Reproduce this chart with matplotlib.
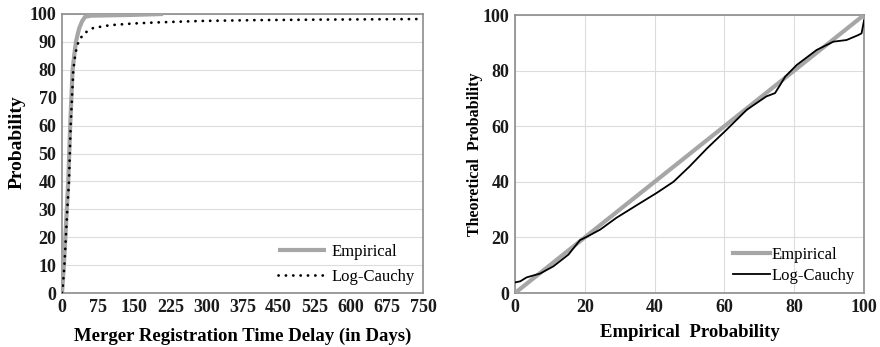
import matplotlib.pyplot as plt
import numpy as np

# left panel: CDF vs delay (days)
emp_days = [0, 2, 4, 7, 10, 13, 17, 22, 26, 29, 33, 36, 42, 48, 60, 93, 150, 210]
emp_prob = [0, 5, 10, 20, 30, 40, 60, 80, 86, 90, 93, 95, 97.5, 99, 99.4, 99.5, 99.7, 100]

lc_days = [0, 2, 5, 8, 11, 14.5, 18, 23.5, 28, 34, 45, 65, 100, 148, 200, 287, 400, 550, 750]
lc_prob = [0, 3, 10, 20, 30, 40, 60, 80, 86, 90, 93, 95, 96, 96.6, 97, 97.5, 97.8, 98, 98.2]

# right panel: P-P plot
pp_emp = [0, 100]
pp_theo = [0, 100]
lc_x = [0, 1.5, 3.3, 7.2, 11, 15.3, 18.6, 21, 24.4, 29, 35.8, 40.6, 45.4, 50, 55, 60.6,
        66.4, 72, 74.5, 76, 77.4, 80.7, 86.4, 91.2, 95, 98.4, 99.3, 100]
lc_y = [3.8, 4.2, 5.6, 7, 9.6, 13.8, 19, 20.5, 22.8, 27, 32.3, 36, 40, 45.5, 52, 58.7,
        65.9, 70.7, 71.9, 74.9, 77.8, 82, 87.4, 90.4, 91, 92.8, 93.4, 98]

plt.rcParams['font.family'] = ['Liberation Serif', 'DejaVu Serif']

fig = plt.figure(figsize=(8.8, 3.47), dpi=100)
ax1 = fig.add_axes([62/880, 1-293/347, (423-62)/880, (293-14)/347])
ax2 = fig.add_axes([515/880, 1-293/347, (864-515)/880, (293-15)/347])

frame_c = '#8c8c8c'
grid_c = '#dcdcdc'
emp_c = '#a6a6a6'

ax1.plot(emp_days, emp_prob, color=emp_c, lw=3, solid_capstyle='butt', label='Empirical', zorder=3)
ax1.plot(lc_days, lc_prob, color='black', lw=2, linestyle=(0, (0.05, 2.6)),
         dash_capstyle='round', label='Log-Cauchy', zorder=4)
ax1.set_xlim(0, 750)
ax1.set_ylim(0, 100)
ax1.set_xticks(np.arange(0, 751, 75))
ax1.set_yticks(np.arange(0, 101, 10))
ax1.grid(axis='y', color=grid_c, lw=0.8)
ax1.set_xlabel('Merger Registration Time Delay (in Days)', fontsize=13.5, fontweight='bold', labelpad=9)
ax1.set_ylabel('Probability', fontsize=14, fontweight='bold')
ax1.yaxis.set_label_coords(-0.10, 0.54)
leg1 = ax1.legend(loc='lower right', frameon=False, fontsize=12, handlelength=2.9,
                  handletextpad=0.3, borderaxespad=0.1, labelspacing=0.55)

ax2.plot(pp_emp, pp_theo, color=emp_c, lw=3, label='Empirical', zorder=3)
ax2.plot(lc_x, lc_y, color='black', lw=1.3, label='Log-Cauchy', zorder=4)
ax2.set_xlim(0, 100)
ax2.set_ylim(0, 100)
ax2.set_xticks(np.arange(0, 101, 20))
ax2.set_yticks(np.arange(0, 101, 20))
ax2.grid(color=grid_c, lw=0.8)
ax2.set_xlabel('Empirical  Probability', fontsize=13.5, fontweight='bold', labelpad=6)
ax2.set_ylabel('Theoretical  Probability', fontsize=11.5, fontweight='bold', labelpad=0)
leg2 = ax2.legend(loc='lower right', frameon=False, fontsize=12, handlelength=2.2,
                  handletextpad=0.1, borderaxespad=0.15, labelspacing=0.3)

for ax in (ax1, ax2):
    ax.set_axisbelow(True)
    for s in ax.spines.values():
        s.set_color(frame_c)
        s.set_linewidth(1.2)
    ax.tick_params(length=0, pad=4, labelsize=13, colors='#1a1a1a')
    for lab in ax.get_xticklabels() + ax.get_yticklabels():
        lab.set_fontweight('bold')

fig.savefig('out.png', dpi=100)
